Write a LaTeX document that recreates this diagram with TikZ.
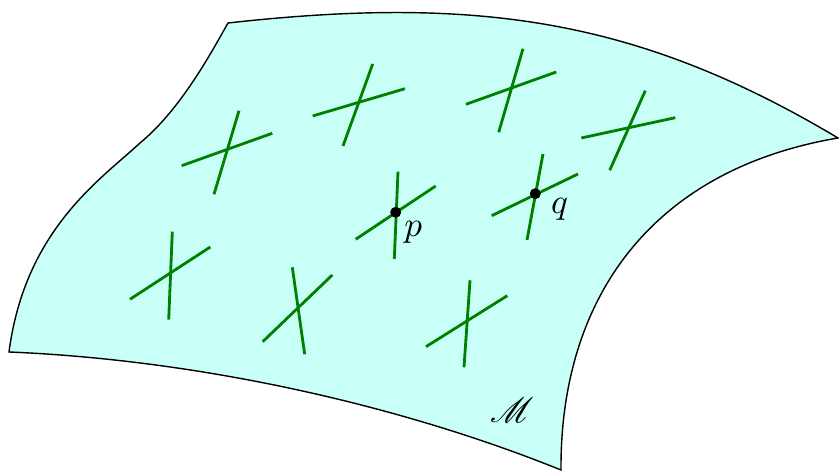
\documentclass[tikz,border=0pt]{standalone}
\usepackage{amsmath}
\usepackage{mathrsfs}
\usetikzlibrary{positioning}
\definecolor{sheetcyan}{RGB}{200,255,247}
\definecolor{vecgreen}{RGB}{0,128,0}
\def\dotSize{0.11}
\tikzset{
  sheet/.style   = {draw=black, fill=sheetcyan, line width=0.4pt},
  tangent/.style = {draw=vecgreen, line width=0.8pt},
  point/.style   = {circle, fill=black, inner sep=0, minimum size=\dotSize cm},
}

\begin{document}
\begin{tikzpicture}[x=0.01cm, y=-0.01cm]

  \useasboundingbox (0,0) rectangle (839,471);

  % the manifold
  \coordinate (TL) at (228,23);
  \coordinate (TR) at (838,138);
  \coordinate (BR) at (561,470);
  \coordinate (BL) at (9,352);
  \coordinate (LM) at (140,143);

  \path[sheet] (TL) .. controls (480,-5) and (640,20) .. (TR)
               .. controls (650,170) and (560,300) .. (BR)
               .. controls (400,405) and (200,360) .. (BL)
               .. controls (25,230) and (100,180) .. (LM)
               .. controls (180,110) and (210,55) .. (TL) -- cycle;

  % tangent crosses
  \draw[tangent] (181.7,165.7) -- (272.3,133.3);
  \draw[tangent] (239,110.7) -- (214,194.3);

  \draw[tangent] (312.7,116) -- (405,88.7);
  \draw[tangent] (372.7,64) -- (343,146);

  \draw[tangent] (466,104.3) -- (556.3,72);
  \draw[tangent] (523,48.7) -- (498.7,132.3);

  \draw[tangent] (581.3,138) -- (675.3,117.7);
  \draw[tangent] (645.3,90.7) -- (609.7,170.3);

  \draw[tangent] (130,299.3) -- (210.3,247);
  \draw[tangent] (172.3,231.7) -- (168.7,319.7);

  \draw[tangent] (262.7,341.7) -- (332.3,275);
  \draw[tangent] (292.3,267.3) -- (304.7,354.3);

  \draw[tangent] (426,346.7) -- (507.3,295.7);
  \draw[tangent] (470,280.3) -- (464,367.3);

  \draw[tangent] (355.7,239.3) -- (435.7,186);
  \draw[tangent] (398,171.7) -- (394.3,259);

  \draw[tangent] (491.7,215.7) -- (578,174);
  \draw[tangent] (543,154) -- (527,240);

  % the two points
  \node[point] (p) at (395.7,212.3) {};
  \node[point] (q) at (535.3,193.7) {};

  \node[anchor=north west, inner sep=1pt] (plabel) at (p.south east) {$p$};
  \node[anchor=north west, inner sep=1pt, xshift=1.5pt] (qlabel) at (q.east) {$q$};

  \node (mlabel) at (512,410) {$\mathscr{M}$};

\end{tikzpicture}
\end{document}
